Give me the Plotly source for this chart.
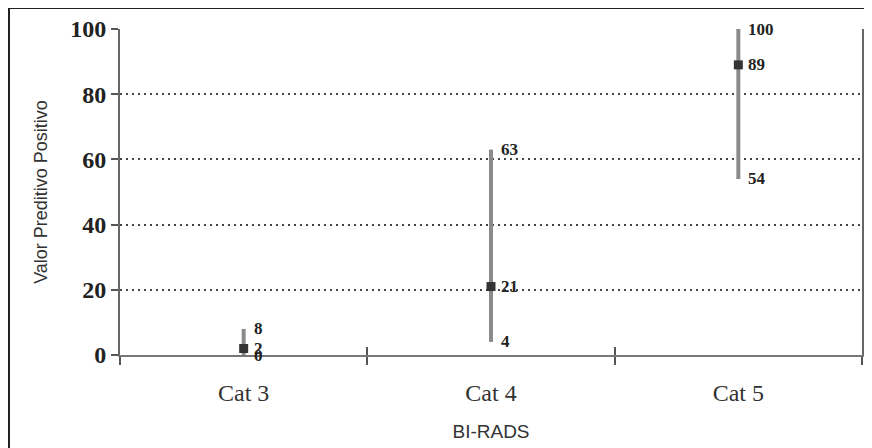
import plotly.graph_objects as go

categories = ["Cat 3", "Cat 4", "Cat 5"]
ppv = [2, 21, 89]
lower = [0, 4, 54]
upper = [8, 63, 100]
y_ticks = [0, 20, 40, 60, 80, 100]

err_plus = [u - v for u, v in zip(upper, ppv)]
err_minus = [v - l for v, l in zip(ppv, lower)]

serif = "Liberation Serif, Times New Roman, serif"
sans = "Liberation Sans, Arial, sans-serif"

fig = go.Figure()
fig.add_trace(go.Scatter(
    x=categories, y=ppv, mode="markers",
    marker=dict(symbol="square", size=9, color="#333333"),
    error_y=dict(type="data", symmetric=False, array=err_plus, arrayminus=err_minus,
                 color="#8a8a8a", thickness=4, width=0),
    showlegend=False, hoverinfo="x+y",
))
# invisible helper trace for the overlaid tick axis
fig.add_trace(go.Scatter(x=categories, y=ppv, xaxis="x2", mode="markers",
                         marker=dict(opacity=0), showlegend=False, hoverinfo="skip"))

annotations = []
for cat, lo, v, hi in zip(categories, lower, ppv, upper):
    for val in sorted(set([lo, v, hi])):
        annotations.append(dict(x=cat, y=val, xref="x", yref="y", text=str(val),
                                showarrow=False, xanchor="left", yanchor="middle",
                                xshift=8,
                                font=dict(family=serif, size=17, color="#222222", weight="bold")))

fig.update_layout(
    width=864, height=440, autosize=False,
    margin=dict(l=112, r=10, t=21, b=93, autoexpand=False),
    paper_bgcolor="white", plot_bgcolor="white",
    annotations=annotations,
    xaxis=dict(
        type="category", categoryorder="array", categoryarray=categories,
        range=[-0.5, 2.5], tickson="boundaries",
        ticks="outside", ticklen=8, tickwidth=1.5, tickcolor="#555555",
        showline=True, linecolor="#777777", linewidth=2,
        showgrid=False, zeroline=False,
        tickfont=dict(family=serif, size=24, color="#333333"),
        ticklabelstandoff=15,
        title=dict(text="BI-RADS", font=dict(family=sans, size=19, color="#333333"), standoff=20),
    ),
    xaxis2=dict(
        type="category", categoryorder="array", categoryarray=categories,
        range=[-0.5, 2.5], tickson="boundaries", overlaying="x", anchor="y", side="bottom",
        ticks="inside", ticklen=8, tickwidth=1.5, tickcolor="#555555",
        showticklabels=False, showgrid=False, zeroline=False, showline=False,
    ),
    yaxis=dict(
        range=[0, 100], tickvals=y_ticks,
        ticks="outside", ticklen=7, tickwidth=1.5, tickcolor="#555555",
        showline=True, linecolor="#666666", linewidth=2, mirror=True,
        showgrid=True, gridcolor="#444444", gridwidth=1.5, griddash="2px,4px",
        zeroline=False,
        tickfont=dict(family=serif, size=24, color="#222222", weight="bold"),
        title=dict(text="Valor Preditivo Positivo", font=dict(family=sans, size=18, color="#333333"), standoff=18),
    ),
    shapes=[dict(type="rect", xref="paper", yref="paper",
                 x0=-0.1496, x1=1.1, y0=-0.5, y1=1.0644,
                 line=dict(color="#222222", width=2), fillcolor="rgba(0,0,0,0)", layer="below")],
)

fig.write_html("out.html")
